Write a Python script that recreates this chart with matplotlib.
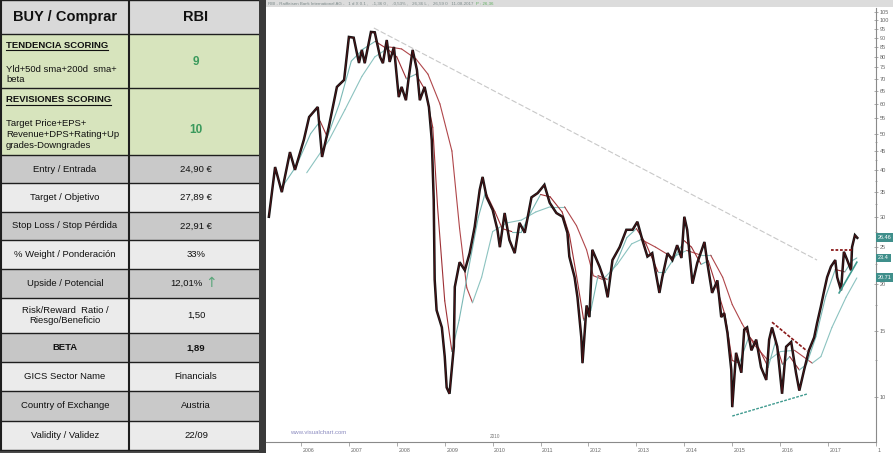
import matplotlib
matplotlib.use("Agg")
import matplotlib.pyplot as plt
from matplotlib.patches import Rectangle
from matplotlib.ticker import NullLocator, FixedLocator
import matplotlib.transforms as mtransforms

plt.rcParams['font.family'] = ['Liberation Sans', 'DejaVu Sans']

# ---------------- data ----------------
header_left = "BUY / Comprar"
header_right = "RBI"
tend_title = "TENDENCIA SCORING"
tend_lines = ["Yld+50d sma+200d  sma+", "beta"]
tend_score = "9"
rev_title = "REVISIONES SCORING"
rev_lines = ["Target Price+EPS+", "Revenue+DPS+Rating+Up", "grades-Downgrades"]
rev_score = "10"
row_labels = ["Entry / Entrada", "Target / Objetivo", "Stop Loss / Stop Pérdida",
              "% Weight / Ponderación", "Upside / Potencial",
              "Risk/Reward  Ratio /\nRiesgo/Beneficio", "BETA", "GICS Sector Name",
              "Country of Exchange", "Validity / Validez"]
row_values = ["24,90 €", "27,89 €", "22,91 €", "33%", "12,01%", "1,50", "1,89",
              "Financials", "Austria", "22/09"]

price_years = [2005.33, 2005.46, 2005.60, 2005.77, 2005.875, 2006.06, 2006.17, 2006.35, 2006.44,
               2006.58, 2006.75, 2006.90, 2007.00, 2007.10, 2007.21, 2007.27, 2007.33, 2007.46,
               2007.54, 2007.65, 2007.71, 2007.79, 2007.85, 2007.94, 2008.04, 2008.10, 2008.19,
               2008.25, 2008.33, 2008.42, 2008.48, 2008.58, 2008.67, 2008.73, 2008.77, 2008.79,
               2008.83, 2008.94, 2009.00, 2009.04, 2009.10, 2009.19, 2009.21, 2009.31, 2009.42,
               2009.52, 2009.625, 2009.73, 2009.79, 2009.875, 2010.00, 2010.10, 2010.15, 2010.25,
               2010.35, 2010.46, 2010.56, 2010.67, 2010.81, 2010.94, 2011.08, 2011.19, 2011.33,
               2011.46, 2011.56, 2011.60, 2011.71, 2011.77, 2011.85, 2011.875, 2011.96, 2012.02,
               2012.08, 2012.23, 2012.33, 2012.40, 2012.50, 2012.65, 2012.79, 2012.92, 2013.02,
               2013.125, 2013.23, 2013.33, 2013.48, 2013.54, 2013.65, 2013.75, 2013.85, 2013.94,
               2014.00, 2014.06, 2014.17, 2014.27, 2014.42, 2014.48, 2014.58, 2014.69, 2014.77,
               2014.83, 2014.90, 2014.98, 2015.00, 2015.08, 2015.19, 2015.25, 2015.31, 2015.40,
               2015.50, 2015.60, 2015.71, 2015.77, 2015.83, 2015.94, 2016.04, 2016.125, 2016.23,
               2016.33, 2016.40, 2016.50, 2016.60, 2016.71, 2016.77, 2016.85, 2016.92, 2016.98,
               2017.06, 2017.15, 2017.19, 2017.27, 2017.33, 2017.40, 2017.48, 2017.50, 2017.56,
               2017.61]
price_vals = [30.1, 40.8, 35.0, 44.7, 40.1, 48.2, 55.4, 58.9, 43.4,
              52.1, 66.6, 69.5, 90.4, 90.0, 77.1, 83.5, 77.0, 93.2,
              93.0, 80.0, 77.0, 88.7, 77.6, 85.0, 62.6, 66.6, 61.4,
              70.8, 83.5, 73.9, 61.4, 66.6, 58.9, 48.0, 33.4, 20.5,
              17.0, 15.3, 12.8, 10.6, 10.2, 13.6, 19.6, 22.8, 21.7,
              24.1, 28.3, 35.5, 38.4, 33.9, 31.4, 27.8, 25.0, 30.8,
              26.1, 24.1, 29.0, 27.3, 33.9, 34.8, 36.6, 32.8, 30.8,
              30.1, 27.3, 23.6, 20.8, 18.4, 14.4, 12.3, 17.5, 16.3,
              24.6, 22.2, 20.4, 18.4, 23.1, 25.0, 27.8, 27.8, 29.2,
              26.1, 23.6, 24.1, 18.9, 20.8, 24.1, 23.1, 25.3, 23.4,
              30.1, 27.8, 20.0, 22.7, 25.8, 22.7, 18.9, 20.4, 16.3,
              16.7, 14.8, 11.8, 9.4, 13.1, 11.6, 15.1, 15.3, 13.3,
              14.2, 12.0, 11.1, 14.2, 15.3, 13.6, 10.2, 13.6, 14.0,
              11.6, 10.4, 11.8, 13.3, 14.4, 15.7, 17.4, 19.2, 20.8,
              22.2, 23.1, 20.8, 19.2, 24.3, 23.1, 21.7, 25.0, 26.9,
              26.46]

fast_ma_years = [2005.6, 2005.9, 2006.2, 2006.4, 2006.55, 2006.8, 2007.05, 2007.3, 2007.55, 2007.8,
                 2008.0, 2008.2, 2008.4, 2008.6, 2008.75, 2008.85, 2009.0, 2009.15, 2009.3, 2009.5,
                 2009.7, 2009.85, 2010.05, 2010.2, 2010.4, 2010.6, 2010.8, 2011.0, 2011.2, 2011.45,
                 2011.6, 2011.75, 2011.9, 2012.05, 2012.2, 2012.4, 2012.6, 2012.8, 2013.0, 2013.2,
                 2013.45, 2013.6, 2013.8, 2014.0, 2014.15, 2014.35, 2014.5, 2014.65, 2014.85, 2015.0,
                 2015.15, 2015.35, 2015.55, 2015.75, 2015.9, 2016.05, 2016.2, 2016.4, 2016.55, 2016.75,
                 2016.95, 2017.15, 2017.35, 2017.5, 2017.6]
fast_ma_vals = [36, 41, 50, 54, 49, 60, 78, 84, 88, 84,
                80, 70, 72, 65, 52, 32, 18, 13.2, 16, 22,
                30, 35, 31, 28, 27.5, 27.5, 31, 34.5, 34, 31,
                27, 21, 16, 17, 21, 20.5, 23, 26.5, 28, 25.5,
                21.5, 21.5, 23.5, 26, 25, 22.5, 23, 20, 16.5, 12.5,
                12.3, 14.5, 13.5, 12, 14, 12.2, 12.8, 11.8, 12.2, 14.5,
                18.5, 21.8, 21.5, 23, 23.4]

slow_ma_years = [2006.12, 2006.58, 2006.92, 2007.27, 2007.54, 2007.85, 2008.1, 2008.4, 2008.65, 2008.9,
                 2009.15, 2009.31, 2009.46, 2009.58, 2009.77, 2010.0, 2010.3, 2010.6, 2010.9, 2011.2,
                 2011.5, 2011.75, 2011.96, 2012.1, 2012.3, 2012.6, 2012.9, 2013.1, 2013.4, 2013.75,
                 2014.05, 2014.35, 2014.55, 2014.8, 2015.0, 2015.2, 2015.45, 2015.75, 2016.0, 2016.3,
                 2016.67, 2016.85, 2017.08, 2017.375, 2017.6]
slow_ma_vals = [39.4, 48, 58, 71, 80, 85, 84, 79, 72, 60,
                45, 28, 19.5, 17.8, 20.8, 27.5, 29, 29.5, 31, 32,
                32, 28.5, 24.6, 21, 20.5, 22.5, 25.5, 26.2, 25, 23.5,
                24.5, 23.8, 23.8, 20.8, 17.6, 15.7, 13.8, 12.5, 13.2, 13.3,
                12.3, 12.8, 15.3, 18.4, 20.71]

gray_trend = ([2007.52, 2016.77], [95.5, 23.1])
teal_support = ([2015.0, 2016.58], [8.9, 10.2])
red_resist = ([2015.83, 2016.56], [15.8, 13.25])
red_level = ([2017.06, 2017.50], [24.6, 24.6])
teal_channel = ([2017.23, 2017.60], [18.9, 22.8])

price_tags = [26.46, 23.4, 20.71]
price_tag_text = ["26.46", "23.4", "20.71"]

ytick_vals = [10, 15, 20, 25, 30, 35, 40, 45, 50, 55, 60, 65, 70, 75, 80, 85, 90, 95, 100, 105]
xtick_years = [2006, 2007, 2008, 2009, 2010, 2011, 2012, 2013, 2014, 2015, 2016, 2017, 2018]
xtick_labels = ["2006", "2007", "2008", "2009", "2010", "2011", "2012", "2013", "2014",
                "2015", "2016", "2017", "1"]

header_text = "RBI - Raiffeisen Bank International AG -   1 d X 0.1 ,   -1,36 0 ,   -0,53% ,   26,36 L ,   26,59 0   11-08-2017"
header_green = "P : 26,36"

# ---------------- figure ----------------
W, H = 893, 453
fig = plt.figure(figsize=(W / 100, H / 100), dpi=100)
fig.patch.set_facecolor('white')

tax = fig.add_axes([0, 0, 1, 1])
tax.set_xlim(0, W)
tax.set_ylim(H, 0)
tax.axis('off')

row_edges = [0, 34, 88, 155, 183, 212, 240, 269, 298, 333, 362, 391, 421, 450]
row_fill = ['#d9d9d9', '#d7e4bd', '#d7e4bd', '#c9c9c9', '#ebebeb', '#c9c9c9', '#ebebeb',
            '#c9c9c9', '#ebebeb', '#c6c6c6', '#ebebeb', '#c9c9c9', '#ebebeb']
TW = 261
for i, fc in enumerate(row_fill):
    tax.add_patch(Rectangle((0, row_edges[i]), TW, row_edges[i + 1] - row_edges[i],
                            fc=fc, ec='none', zorder=1))
for y in row_edges:
    tax.plot([0, TW], [y, y], color='#1e1e1e', lw=1.0, zorder=3)
tax.plot([129, 129], [0, 450], color='#1e1e1e', lw=1.5, zorder=3)
tax.plot([0.6, 0.6], [0, 450], color='#1e1e1e', lw=1.5, zorder=3)
tax.add_patch(Rectangle((0, 450), 266, 3, fc='#4a4a4a', ec='none', zorder=2))
tax.add_patch(Rectangle((259, 0), 7, H, fc='#3a3a3a', ec='none', zorder=4))

# header band on top of the chart
tax.add_patch(Rectangle((266, 0), W - 266, 7, fc='#dcdcdc', ec='none', zorder=2))
tax.text(268, 3.6, header_text, fontsize=3.2, color='#7c8a8a', va='center', ha='left', zorder=5)
tax.text(476, 3.6, header_green, fontsize=3.2, color='#5fae5f', va='center', ha='left', zorder=5)

LX, RX = 65, 196
fs = 6.8
tax.text(LX, 17, header_left, fontsize=10.5, fontweight='bold', ha='center', va='center', color='#111', zorder=5)
tax.text(RX, 17, header_right, fontsize=10.5, fontweight='bold', ha='center', va='center', color='#111', zorder=5)

t1 = tax.text(6, 45, tend_title, fontsize=fs, fontweight='bold', ha='left', va='center', color='#111', zorder=5)
for k, line in enumerate(tend_lines):
    tax.text(6, 69 + 11 * k, line, fontsize=fs, ha='left', va='center', color='#111', zorder=5)
tax.text(RX, 62, tend_score, fontsize=8.5, fontweight='bold', ha='center', va='center', color='#3a9a5c', zorder=5)

t2 = tax.text(6, 100, rev_title, fontsize=fs, fontweight='bold', ha='left', va='center', color='#111', zorder=5)
for k, line in enumerate(rev_lines):
    tax.text(6, 123 + 11.5 * k, line, fontsize=fs, ha='left', va='center', color='#111', zorder=5)
tax.text(RX, 130, rev_score, fontsize=8.5, fontweight='bold', ha='center', va='center', color='#3a9a5c', zorder=5)

# underline titles
fig.canvas.draw()
inv = tax.transData.inverted()
for t in (t1, t2):
    bb = t.get_window_extent()
    (x0, y0), (x1, y1) = inv.transform([[bb.x0, bb.y0], [bb.x1, bb.y1]])
    tax.plot([x0, x1], [y0 + 0.5, y0 + 0.5], color='#111', lw=0.8, zorder=5)

for i, (lab, val) in enumerate(zip(row_labels, row_values)):
    top, bot = row_edges[3 + i], row_edges[4 + i]
    yc = (top + bot) / 2
    bold = 'bold' if lab == 'BETA' else 'normal'
    tax.text(LX, yc, lab, fontsize=fs, fontweight=bold, ha='center', va='center',
             color='#111', linespacing=1.25, zorder=5)
    if lab.startswith('Upside'):
        tax.text(RX + 7, yc, val, fontsize=fs, ha='right', va='center', color='#111', zorder=5)
        tax.text(RX + 15, yc - 0.5, "↑", fontsize=10, ha='center', va='center',
                 color='#5aa67a', family=['DejaVu Sans'], zorder=5)
    else:
        tax.text(RX, yc, val, fontsize=fs, fontweight=bold, ha='center', va='center',
                 color='#111', zorder=5)

# ---------------- chart ----------------
ax = fig.add_axes([266 / W, (H - 442) / H, (876 - 266) / W, (442 - 8) / H])
ax.set_facecolor('white')
ax.set_yscale('log')
ax.set_xlim(2005.27, 2017.98)
ax.set_ylim(7.594, 107.9)

# trend lines
ax.plot(*gray_trend, color='#c8c8c8', lw=0.8, ls=(0, (5, 2)), zorder=2)
ax.plot(*teal_support, color='#3f9a8f', lw=1.0, ls=(0, (2, 1)), zorder=4)
ax.plot(*red_resist, color='#8b1a1a', lw=1.2, ls=(0, (2, 1)), zorder=4)
ax.plot(*red_level, color='#8b1a1a', lw=1.3, ls=(0, (1.5, 1)), zorder=4)
ax.plot(*teal_channel, color='#3f9a8f', lw=1.2, zorder=4)


def slope_colored(xs, ys, up, down, lw):
    for i in range(len(xs) - 1):
        c = up if ys[i + 1] >= ys[i] else down
        ax.plot(xs[i:i + 2], ys[i:i + 2], color=c, lw=lw, solid_capstyle='round', zorder=2)


slope_colored(slow_ma_years, slow_ma_vals, '#8cc3c0', '#b0474b', 0.8)
slope_colored(fast_ma_years, fast_ma_vals, '#7ab8b5', '#9e3035', 0.8)

ax.plot(price_years, price_vals, color='#141414', lw=1.8, zorder=3, solid_joinstyle='miter')
ax.plot(price_years, price_vals, color='#6e1016', lw=0.5, zorder=3, alpha=0.8)

# axes styling
for s in ('top', 'left'):
    ax.spines[s].set_visible(False)
ax.spines['right'].set_color('#8a8a8a')
ax.spines['bottom'].set_color('#8a8a8a')
ax.spines['right'].set_linewidth(0.8)
ax.spines['bottom'].set_linewidth(0.8)

ax.yaxis.tick_right()
ax.yaxis.set_major_locator(FixedLocator(ytick_vals))
ax.set_yticklabels([str(v) for v in ytick_vals])
ax.yaxis.set_minor_locator(FixedLocator([12.5, 17.5, 22.5, 27.5, 32.5, 37.5, 42.5, 47.5]))
ax.yaxis.set_minor_formatter(plt.NullFormatter())
ax.tick_params(axis='y', which='major', direction='inout', length=3, width=0.5,
               colors='#8a8a8a', labelsize=4, labelcolor='#666666', pad=1)
ax.tick_params(axis='y', which='minor', direction='inout', length=2, width=0.5, colors='#8a8a8a')

ax.set_xticks(xtick_years)
ax.set_xticklabels(xtick_labels)
ax.xaxis.set_minor_locator(NullLocator())
ax.tick_params(axis='x', direction='out', length=3, width=0.5, colors='#8a8a8a',
               labelsize=3.8, labelcolor='#666666', pad=1)
off = mtransforms.ScaledTranslation(1.5 / 100, 0, fig.dpi_scale_trans)
for lbl in ax.get_xticklabels():
    lbl.set_ha('left')
    lbl.set_transform(lbl.get_transform() + off)

# price tags on right axis
ytr = ax.get_yaxis_transform()
for v, s in zip(price_tags, price_tag_text):
    ax.text(1.003, v, s, transform=ytr, fontsize=4, color='white', ha='left', va='center',
            bbox=dict(boxstyle='square,pad=0.35', fc='#3f8f8b', ec='none'), zorder=6, clip_on=False)

fig.text(290 / W, 1 - 433 / H, "www.visualchart.com", fontsize=4.3, color='#8c8cc0', va='center', ha='left')
fig.text(490 / W, 1 - 437 / H, "2010", fontsize=3.4, color='#777777', va='center', ha='left')

fig.savefig('out.png', dpi=100)
